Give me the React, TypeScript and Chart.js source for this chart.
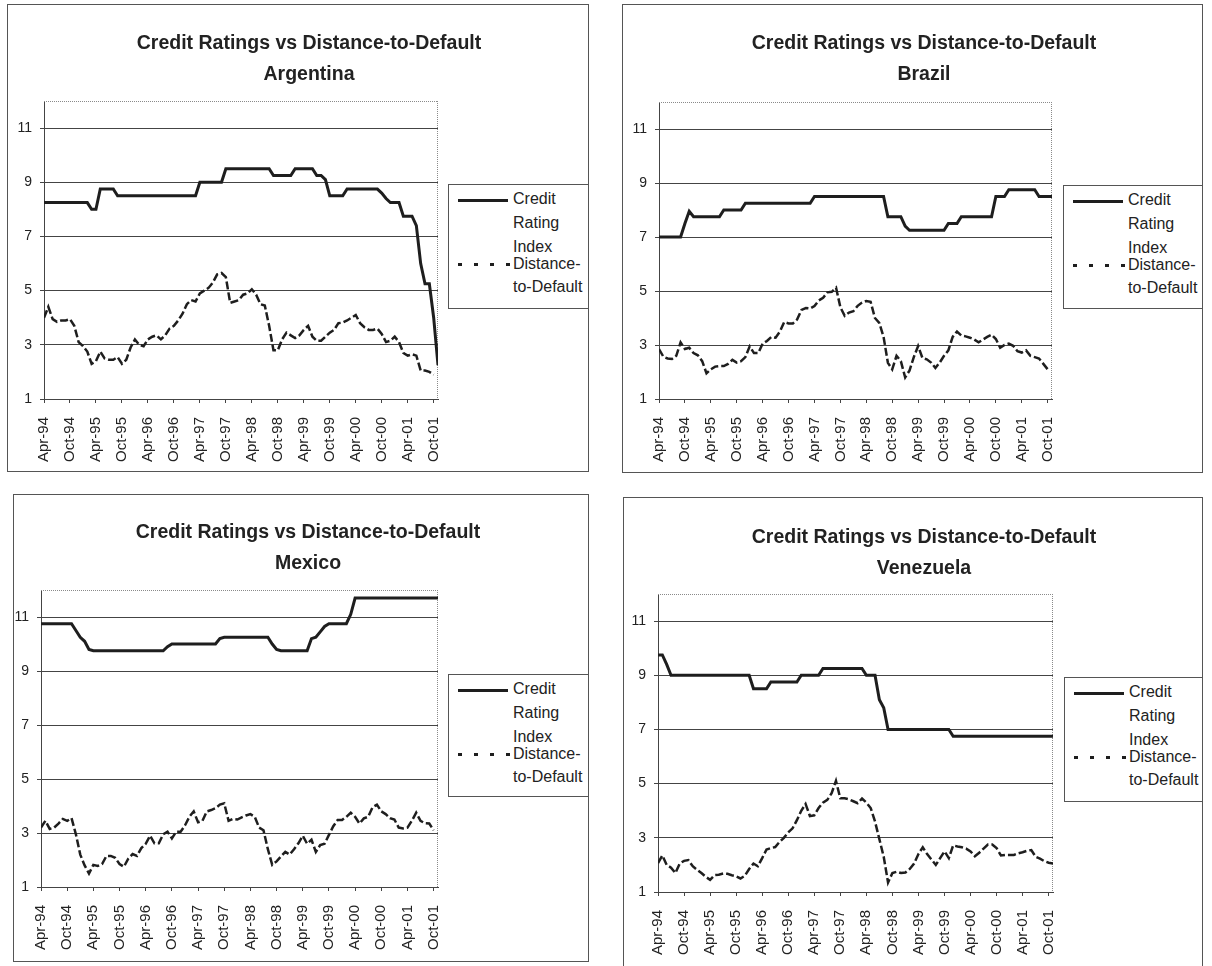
import React, { useEffect, useRef } from "react";
import { Chart, registerables } from "chart.js";

Chart.register(...registerables);

const FONT = "'Liberation Sans', Arial, Helvetica, sans-serif";
const INK = "#1e1e1e";

const chartTitle = "Credit Ratings vs Distance-to-Default";
const legendRating = ["Credit", "Rating", "Index"];
const legendDD = ["Distance-", "to-Default"];

// x positions are months counted from Apr-94 (0) to Nov-01 (91)
const xTickMonths = [0, 6, 12, 18, 24, 30, 36, 42, 48, 54, 60, 66, 72, 78, 84, 90];
const xTickLabels = [
  "Apr-94", "Oct-94", "Apr-95", "Oct-95", "Apr-96", "Oct-96", "Apr-97", "Oct-97",
  "Apr-98", "Oct-98", "Apr-99", "Oct-99", "Apr-00", "Oct-00", "Apr-01", "Oct-01",
];
const yTicks = [1, 3, 5, 7, 9, 11];

const argentinaRating = [
  8.25, 8.25, 8.25, 8.25, 8.25, 8.25, 8.25, 8.25, 8.25, 8.25, 8.25,
  8.0, 8.0,
  8.75, 8.75, 8.75, 8.75,
  8.5, 8.5, 8.5, 8.5, 8.5, 8.5, 8.5, 8.5, 8.5, 8.5, 8.5, 8.5, 8.5, 8.5, 8.5, 8.5, 8.5, 8.5, 8.5,
  9.0, 9.0, 9.0, 9.0, 9.0, 9.0,
  9.5, 9.5, 9.5, 9.5, 9.5, 9.5, 9.5, 9.5, 9.5, 9.5, 9.5,
  9.25, 9.25, 9.25, 9.25, 9.25,
  9.5, 9.5, 9.5, 9.5, 9.5,
  9.25, 9.25,
  9.1,
  8.5, 8.5, 8.5, 8.5,
  8.75, 8.75, 8.75, 8.75, 8.75, 8.75, 8.75, 8.75,
  8.6, 8.4,
  8.25, 8.25, 8.25,
  7.75, 7.75, 7.75,
  7.4, 6.0,
  5.25, 5.25,
  4.0, 2.25,
];
const argentinaDD = [
  4.0, 4.4, 3.95, 3.85, 3.9, 3.9, 3.95, 3.7, 3.1, 2.95,
  2.75, 2.3, 2.4, 2.75, 2.5, 2.45, 2.45, 2.55, 2.3, 2.45,
  2.9, 3.2, 3.0, 2.95, 3.2, 3.3, 3.35, 3.2, 3.35, 3.6,
  3.7, 3.9, 4.15, 4.5, 4.65, 4.6, 4.9, 5.0, 5.1, 5.3,
  5.6, 5.65, 5.5, 4.55, 4.6, 4.65, 4.85, 4.9, 5.05, 4.85,
  4.5, 4.45, 3.7, 2.8, 2.8, 3.2, 3.45, 3.35, 3.25, 3.35,
  3.55, 3.7, 3.3, 3.15, 3.15, 3.3, 3.45, 3.55, 3.8, 3.82,
  3.9, 4.0, 4.1, 3.8, 3.65, 3.55, 3.55, 3.6, 3.4, 3.1,
  3.15, 3.3, 3.1, 2.7, 2.6, 2.65, 2.6, 2.05, 2.05, 2.0,
  1.9, null,
];

const brazilRating = [
  7.0, 7.0, 7.0, 7.0, 7.0, 7.0,
  7.5, 7.95,
  7.75, 7.75, 7.75, 7.75, 7.75, 7.75, 7.75,
  8.0, 8.0, 8.0, 8.0, 8.0,
  8.25, 8.25, 8.25, 8.25, 8.25, 8.25, 8.25, 8.25, 8.25, 8.25, 8.25, 8.25, 8.25, 8.25, 8.25, 8.25,
  8.5, 8.5, 8.5, 8.5, 8.5, 8.5, 8.5, 8.5, 8.5, 8.5, 8.5, 8.5, 8.5, 8.5, 8.5, 8.5, 8.5,
  7.75, 7.75, 7.75, 7.75,
  7.4,
  7.25, 7.25, 7.25, 7.25, 7.25, 7.25, 7.25, 7.25, 7.25,
  7.5, 7.5, 7.5,
  7.75, 7.75, 7.75, 7.75, 7.75, 7.75, 7.75, 7.75,
  8.5, 8.5, 8.5,
  8.75, 8.75, 8.75, 8.75, 8.75, 8.75, 8.75,
  8.5, 8.5, 8.5, 8.5,
];
const brazilDD = [
  2.85, 2.57, 2.5, 2.48, 2.6, 3.1, 2.85, 2.9, 2.7, 2.62,
  2.4, 1.95, 2.1, 2.2, 2.22, 2.22, 2.3, 2.45, 2.35, 2.4,
  2.55, 2.95, 2.7, 2.7, 3.05, 3.15, 3.3, 3.27, 3.5, 3.85,
  3.8, 3.8, 3.95, 4.3, 4.37, 4.35, 4.44, 4.65, 4.75, 4.95,
  4.97, 5.12, 4.4, 4.08, 4.2, 4.25, 4.45, 4.57, 4.63, 4.6,
  4.0, 3.82, 3.3, 2.34, 2.1, 2.6, 2.4, 1.8, 2.05, 2.55,
  2.96, 2.52, 2.47, 2.35, 2.15, 2.35, 2.6, 2.8, 3.3, 3.5,
  3.35, 3.32, 3.27, 3.2, 3.1, 3.2, 3.3, 3.38, 3.22, 2.9,
  3.0, 3.05, 2.97, 2.77, 2.72, 2.8, 2.6, 2.55, 2.5, 2.3,
  2.1, null,
];

const mexicoRating = [
  10.75, 10.75, 10.75, 10.75, 10.75, 10.75, 10.75, 10.75,
  10.5, 10.25, 10.1, 9.8,
  9.75, 9.75, 9.75, 9.75, 9.75, 9.75, 9.75, 9.75, 9.75, 9.75, 9.75, 9.75, 9.75, 9.75, 9.75, 9.75, 9.75,
  9.9,
  10.0, 10.0, 10.0, 10.0, 10.0, 10.0, 10.0, 10.0, 10.0, 10.0, 10.0,
  10.2,
  10.25, 10.25, 10.25, 10.25, 10.25, 10.25, 10.25, 10.25, 10.25, 10.25, 10.25,
  10.0, 9.8,
  9.75, 9.75, 9.75, 9.75, 9.75, 9.75, 9.75,
  10.2, 10.25, 10.45, 10.65,
  10.75, 10.75, 10.75, 10.75, 10.75,
  11.1,
  11.7, 11.7, 11.7, 11.7, 11.7, 11.7, 11.7, 11.7, 11.7, 11.7,
  11.7, 11.7, 11.7, 11.7, 11.7, 11.7, 11.7, 11.7, 11.7, 11.7,
];
const mexicoDD = [
  3.2, 3.45, 3.15, 3.2, 3.35, 3.52, 3.45, 3.55, 2.95, 2.2,
  1.8, 1.5, 1.82, 1.78, 1.85, 2.15, 2.15, 2.08, 1.85, 1.75,
  2.05, 2.22, 2.15, 2.44, 2.6, 2.9, 2.62, 2.62, 2.95, 3.05,
  2.8, 3.05, 3.05, 3.28, 3.6, 3.8, 3.4, 3.45, 3.8, 3.85,
  3.92, 4.05, 4.1, 3.45, 3.52, 3.5, 3.58, 3.65, 3.7, 3.6,
  3.2, 3.1, 2.4, 1.82, 1.95, 2.13, 2.3, 2.2, 2.4, 2.62,
  2.9, 2.6, 2.75, 2.3, 2.55, 2.6, 2.93, 3.25, 3.48, 3.48,
  3.6, 3.75, 3.6, 3.35, 3.54, 3.6, 3.95, 4.05, 3.8, 3.7,
  3.55, 3.5, 3.2, 3.17, 3.2, 3.45, 3.75, 3.45, 3.36, 3.35,
  3.1, null,
];

const venezuelaRating = [
  9.75, 9.75,
  9.4,
  9.0, 9.0, 9.0, 9.0, 9.0, 9.0, 9.0, 9.0, 9.0, 9.0, 9.0, 9.0, 9.0, 9.0, 9.0, 9.0, 9.0, 9.0, 9.0,
  8.5, 8.5, 8.5, 8.5,
  8.75, 8.75, 8.75, 8.75, 8.75, 8.75, 8.75,
  9.0, 9.0, 9.0, 9.0, 9.0,
  9.25, 9.25, 9.25, 9.25, 9.25, 9.25, 9.25, 9.25, 9.25, 9.25,
  9.0, 9.0, 9.0,
  8.1, 7.8,
  7.0, 7.0, 7.0, 7.0, 7.0, 7.0, 7.0, 7.0, 7.0, 7.0, 7.0, 7.0, 7.0, 7.0, 7.0,
  6.75, 6.75, 6.75, 6.75, 6.75, 6.75, 6.75, 6.75, 6.75, 6.75, 6.75, 6.75,
  6.75, 6.75, 6.75, 6.75, 6.75, 6.75, 6.75, 6.75, 6.75, 6.75, 6.75, 6.75,
];
const venezuelaDD = [
  2.07, 2.35, 2.0, 1.9, 1.7, 2.05, 2.15, 2.18, 1.95, 1.82,
  1.7, 1.56, 1.45, 1.62, 1.64, 1.68, 1.67, 1.62, 1.58, 1.5,
  1.6, 1.85, 2.05, 1.95, 2.25, 2.57, 2.62, 2.66, 2.85, 3.0,
  3.2, 3.35, 3.65, 4.0, 4.25, 3.8, 3.83, 4.1, 4.3, 4.4,
  4.65, 5.1, 4.46, 4.46, 4.42, 4.35, 4.28, 4.45, 4.3, 4.1,
  3.6, 2.95, 2.3, 1.35, 1.7, 1.75, 1.7, 1.72, 1.85, 2.05,
  2.4, 2.65, 2.4, 2.2, 2.0, 2.25, 2.5, 2.25, 2.72, 2.68,
  2.65, 2.6, 2.5, 2.32, 2.45, 2.6, 2.75, 2.75, 2.62, 2.35,
  2.37, 2.37, 2.37, 2.43, 2.47, 2.52, 2.55, 2.3, 2.23, 2.14,
  2.08, 2.05,
];

type PanelCfg = {
  country: string;
  rating: (number | null)[];
  dd: (number | null)[];
  left: number; top: number; width: number; height: number;
  plot: { left: number; top: number; right: number; bottom: number };
  legend: { left: number; top: number; width: number; height: number };
  title: { x: number; y: number };
};

const panels: PanelCfg[] = [
  {
    country: "Argentina", rating: argentinaRating, dd: argentinaDD,
    left: 7, top: 4, width: 582, height: 468,
    plot: { left: 37, top: 97, right: 431, bottom: 395 },
    legend: { left: 441, top: 180, width: 141, height: 125 },
    title: { x: 302, y: 23 },
  },
  {
    country: "Brazil", rating: brazilRating, dd: brazilDD,
    left: 622, top: 4, width: 581, height: 469,
    plot: { left: 37, top: 98, right: 430, bottom: 395 },
    legend: { left: 441, top: 181, width: 140, height: 124 },
    title: { x: 302, y: 23 },
  },
  {
    country: "Mexico", rating: mexicoRating, dd: mexicoDD,
    left: 13, top: 494, width: 576, height: 468,
    plot: { left: 28, top: 96, right: 425, bottom: 393 },
    legend: { left: 435, top: 180, width: 141, height: 123 },
    title: { x: 295, y: 22 },
  },
  {
    country: "Venezuela", rating: venezuelaRating, dd: venezuelaDD,
    left: 623, top: 497, width: 580, height: 480,
    plot: { left: 35, top: 97, right: 430, bottom: 395 },
    legend: { left: 441, top: 180, width: 139, height: 125 },
    title: { x: 301, y: 24 },
  },
];

const plotFrame = {
  id: "plotFrame",
  beforeDatasetsDraw(chart: any) {
    const { ctx, chartArea } = chart;
    const { left, top, right, bottom } = chartArea;
    ctx.save();
    ctx.strokeStyle = "#8a8a8a";
    ctx.lineWidth = 1;
    ctx.setLineDash([1, 1]);
    ctx.beginPath();
    ctx.moveTo(left, Math.round(top) + 0.5);
    ctx.lineTo(right, Math.round(top) + 0.5);
    ctx.moveTo(Math.round(right) - 0.5, top);
    ctx.lineTo(Math.round(right) - 0.5, bottom);
    ctx.stroke();
    ctx.restore();
  },
};

function Panel({ cfg }: { cfg: PanelCfg }) {
  const ref = useRef<HTMLCanvasElement | null>(null);

  useEffect(() => {
    if (!ref.current) return;
    const chart = new Chart(ref.current, {
      type: "line",
      data: {
        datasets: [
          {
            label: legendRating.join(" "),
            data: cfg.rating.map((y, x) => ({ x, y })),
            borderColor: INK,
            borderWidth: 3,
            pointRadius: 0,
            tension: 0,
            fill: false,
          },
          {
            label: legendDD.join(""),
            data: cfg.dd.map((y, x) => ({ x, y })),
            borderColor: INK,
            borderWidth: 2.5,
            borderDash: [8, 3],
            pointRadius: 0,
            tension: 0,
            fill: false,
            spanGaps: false,
          },
        ],
      },
      options: {
        responsive: false,
        animation: false,
        devicePixelRatio: 1,
        layout: {
          padding: { left: 0, top: cfg.plot.top, right: cfg.width - cfg.plot.right, bottom: 0 },
        },
        plugins: {
          legend: { display: false },
          title: { display: false },
          tooltip: { enabled: false },
        },
        scales: {
          x: {
            type: "linear",
            min: 0,
            max: 91,
            afterBuildTicks: (axis: any) => {
              axis.ticks = xTickMonths.map((v) => ({ value: v }));
            },
            afterFit: (axis: any) => {
              axis.height = cfg.height - cfg.plot.bottom;
            },
            ticks: {
              autoSkip: false,
              minRotation: 90,
              maxRotation: 90,
              padding: 14,
              color: "#222",
              font: { family: FONT, size: 15 },
              callback: (_v: any, i: number) => xTickLabels[i],
            },
            grid: {
              display: true,
              drawOnChartArea: false,
              drawTicks: true,
              tickLength: 4,
              color: "#444",
            },
            border: { display: true, color: "#444", width: 1 },
          },
          y: {
            type: "linear",
            min: 1,
            max: 12,
            afterBuildTicks: (axis: any) => {
              axis.ticks = yTicks.map((v) => ({ value: v }));
            },
            afterFit: (axis: any) => {
              axis.width = cfg.plot.left;
            },
            ticks: {
              padding: 8,
              color: "#222",
              font: { family: FONT, size: 14 },
            },
            grid: {
              color: "#444",
              lineWidth: 1,
              drawTicks: true,
              tickLength: 4,
            },
            border: { display: true, color: "#444", width: 1 },
          },
        },
      },
      plugins: [plotFrame],
    } as any);
    return () => chart.destroy();
  }, [cfg]);

  const lg = cfg.legend;
  return (
    <div
      style={{
        position: "absolute",
        left: cfg.left,
        top: cfg.top,
        width: cfg.width,
        height: cfg.height,
        background: "#fff",
      }}
    >
      <canvas
        ref={ref}
        width={cfg.width}
        height={cfg.height}
        style={{ position: "absolute", left: 0, top: 0, width: cfg.width, height: cfg.height }}
      />
      <div
        style={{
          position: "absolute",
          left: cfg.title.x,
          top: cfg.title.y,
          transform: "translateX(-50%)",
          fontFamily: FONT,
          fontWeight: "bold",
          fontSize: 19.5,
          lineHeight: "31px",
          color: "#222",
          textAlign: "center",
          whiteSpace: "nowrap",
        }}
      >
        <div>{chartTitle}</div>
        <div>{cfg.country}</div>
      </div>
      <div
        style={{
          position: "absolute",
          left: lg.left,
          top: lg.top,
          width: lg.width,
          height: lg.height,
          boxSizing: "border-box",
          border: "1px solid #555",
          background: "#fff",
          fontFamily: FONT,
          fontSize: 16,
          color: "#222",
        }}
      >
        <div style={{ position: "absolute", left: 9, top: 14, width: 50, height: 3, background: INK }} />
        <div
          style={{
            position: "absolute",
            left: 9,
            top: 78,
            width: 54,
            height: 3,
            background: `repeating-linear-gradient(to right, ${INK} 0px, ${INK} 4px, transparent 4px, transparent 16px)`,
          }}
        />
        <div style={{ position: "absolute", left: 64, top: 2, lineHeight: "24px", whiteSpace: "nowrap" }}>
          {legendRating.map((t) => (
            <div key={t}>{t}</div>
          ))}
        </div>
        <div style={{ position: "absolute", left: 64, top: 67, lineHeight: "23px", whiteSpace: "nowrap" }}>
          {legendDD.map((t) => (
            <div key={t}>{t}</div>
          ))}
        </div>
      </div>
      <div
        style={{
          position: "absolute",
          left: 0,
          top: 0,
          width: cfg.width,
          height: cfg.height,
          boxSizing: "border-box",
          border: "1px solid #555",
          pointerEvents: "none",
        }}
      />
    </div>
  );
}

export default function App() {
  return (
    <div
      style={{
        position: "absolute",
        left: 0,
        top: 0,
        width: 1212,
        height: 966,
        overflow: "hidden",
        background: "#fff",
      }}
    >
      {panels.map((p) => (
        <Panel key={p.country} cfg={p} />
      ))}
    </div>
  );
}
